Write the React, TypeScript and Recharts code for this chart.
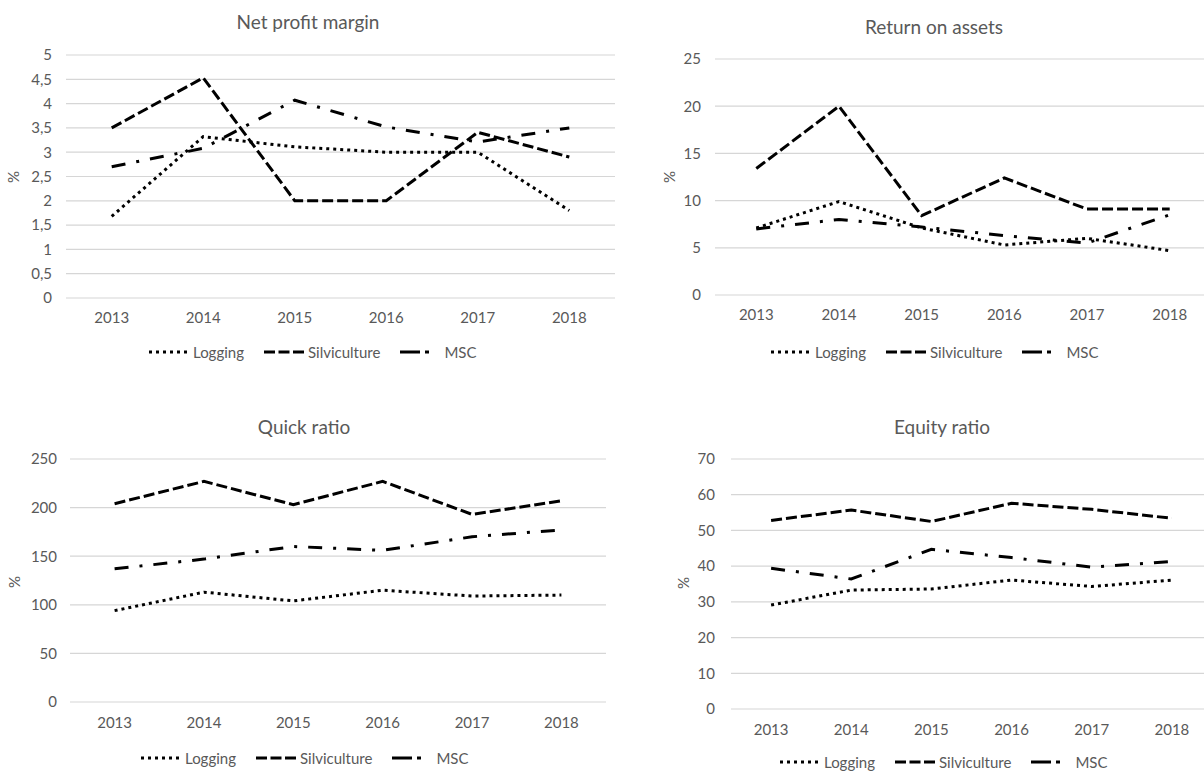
import React from 'react';
import { LineChart, Line, XAxis, YAxis, CartesianGrid } from 'recharts';

const years = ['2013', '2014', '2015', '2016', '2017', '2018'];
const seriesNames = ['Logging', 'Silviculture', 'MSC'];

const npmLogging = [1.68, 3.32, 3.11, 3.0, 3.0, 1.8];
const npmSilviculture = [3.5, 4.53, 2.0, 2.0, 3.41, 2.9];
const npmMSC = [2.7, 3.08, 4.07, 3.52, 3.21, 3.5];
const npmTicks = [0, 0.5, 1, 1.5, 2, 2.5, 3, 3.5, 4, 4.5, 5];

const roaLogging = [7.1, 9.9, 7.1, 5.3, 6.0, 4.7];
const roaSilviculture = [13.4, 20.0, 8.4, 12.4, 9.1, 9.1];
const roaMSC = [7.0, 8.0, 7.2, 6.3, 5.5, 8.5];
const roaTicks = [0, 5, 10, 15, 20, 25];

const qrLogging = [94, 113, 104, 115, 109, 110];
const qrSilviculture = [204, 227, 203, 227, 193, 207];
const qrMSC = [137, 147, 160, 156, 170, 177];
const qrTicks = [0, 50, 100, 150, 200, 250];

const erLogging = [29.1, 33.3, 33.6, 36.1, 34.3, 36.1];
const erSilviculture = [52.8, 55.7, 52.5, 57.6, 55.9, 53.4];
const erMSC = [39.4, 36.4, 44.7, 42.4, 39.7, 41.3];
const erTicks = [0, 10, 20, 30, 40, 50, 60, 70];

const dashes: Record<string, string> = {
  Logging: '3 4',
  Silviculture: '11 4',
  MSC: '14 11 3 11',
};
const legendDashes: Record<string, string> = {
  Logging: '3 4',
  Silviculture: '11 3.5',
  MSC: '20 5 4 40',
};

const TEXT = '#595959';
const FONT = 'Lato, "Open Sans", sans-serif';

function build(a: number[], b: number[], c: number[]) {
  return years.map((y, i) => ({ year: y, Logging: a[i], Silviculture: b[i], MSC: c[i] }));
}

type PanelProps = {
  title: string;
  data: any[];
  ticks: number[];
  x0: number;
  y0: number;
  width: number;
  height: number;
  top: number;
  yw: number;
  pad: number;
  tickGap: number;
  xGap: number;
  titleX: number;
  titleY: number;
  pctX: number;
  pctY: number;
  legX: number;
  legY: number;
};

function Panel(p: PanelProps) {
  const fmt = (v: number) => String(v).replace('.', ',');
  return (
    <>
      <div
        style={{
          position: 'absolute',
          left: p.titleX - 200,
          top: p.titleY - 13,
          width: 400,
          height: 26,
          lineHeight: '26px',
          textAlign: 'center',
          fontSize: 19,
          color: TEXT,
        }}
      >
        {p.title}
      </div>
      <div
        style={{
          position: 'absolute',
          left: p.pctX - 10,
          top: p.pctY - 10,
          width: 20,
          height: 20,
          lineHeight: '20px',
          textAlign: 'center',
          fontSize: 15,
          color: TEXT,
          transform: 'rotate(-90deg)',
        }}
      >
        %
      </div>
      <div style={{ position: 'absolute', left: p.x0, top: p.y0 }}>
        <LineChart
          width={p.width}
          height={p.height}
          data={p.data}
          margin={{ top: p.top, right: 0, bottom: 0, left: 0 }}
        >
          <CartesianGrid vertical={false} stroke="#d6d6d6" strokeWidth={1.2} />
          <XAxis
            dataKey="year"
            axisLine={false}
            tickLine={false}
            tickSize={0}
            tickMargin={p.xGap}
            height={30}
            padding={{ left: p.pad, right: p.pad }}
            tick={{ fill: TEXT, fontSize: 15 }}
            interval={0}
          />
          <YAxis
            width={p.yw}
            domain={[p.ticks[0], p.ticks[p.ticks.length - 1]]}
            ticks={p.ticks}
            axisLine={false}
            tickLine={false}
            tickSize={0}
            tickMargin={p.tickGap}
            tickFormatter={fmt}
            tick={{ fill: TEXT, fontSize: 15 }}
            interval={0}
          />
          {seriesNames.map((s) => (
            <Line
              key={s}
              dataKey={s}
              stroke="#000"
              strokeWidth={3}
              strokeDasharray={dashes[s]}
              dot={false}
              activeDot={false}
              isAnimationActive={false}
              type="linear"
            />
          ))}
        </LineChart>
      </div>
      <div
        style={{
          position: 'absolute',
          left: p.legX,
          top: p.legY - 10,
          height: 20,
          display: 'flex',
          alignItems: 'center',
          whiteSpace: 'nowrap',
          fontSize: 15,
          color: TEXT,
        }}
      >
        {seriesNames.map((s, i) => (
          <span
            key={s}
            style={{ display: 'inline-flex', alignItems: 'center', marginLeft: i === 0 ? 0 : 20 }}
          >
            <svg width={40} height={6} style={{ display: 'block' }}>
              <line x1={0} y1={3} x2={40} y2={3} stroke="#000" strokeWidth={3} strokeDasharray={legendDashes[s]} />
            </svg>
            <span style={{ marginLeft: 4 }}>{s}</span>
          </span>
        ))}
      </div>
    </>
  );
}

export default function App() {
  return (
    <div
      style={{
        position: 'absolute',
        left: 0,
        top: 0,
        width: 1204,
        height: 771,
        overflow: 'hidden',
        background: '#fff',
        fontFamily: FONT,
      }}
    >
      <Panel
        title="Net profit margin"
        data={build(npmLogging, npmSilviculture, npmMSC)}
        ticks={npmTicks}
        x0={0}
        y0={0}
        width={615}
        height={328}
        top={55}
        yw={66}
        pad={45.7}
        tickGap={14}
        xGap={14}
        titleX={308}
        titleY={22}
        pctX={13}
        pctY={177}
        legX={149}
        legY={352}
      />
      <Panel
        title="Return on assets"
        data={build(roaLogging, roaSilviculture, roaMSC)}
        ticks={roaTicks}
        x0={650}
        y0={0}
        width={561}
        height={325}
        top={59}
        yw={65}
        pad={41.3}
        tickGap={14}
        xGap={14}
        titleX={934}
        titleY={27}
        pctX={669}
        pctY={177}
        legX={771}
        legY={352}
      />
      <Panel
        title="Quick ratio"
        data={build(qrLogging, qrSilviculture, qrMSC)}
        ticks={qrTicks}
        x0={0}
        y0={390}
        width={606}
        height={342}
        top={69}
        yw={70}
        pad={44.6}
        tickGap={13}
        xGap={15}
        titleX={304}
        titleY={427}
        pctX={14}
        pctY={582}
        legX={141}
        legY={758}
      />
      <Panel
        title="Equity ratio"
        data={build(erLogging, erSilviculture, erMSC)}
        ticks={erTicks}
        x0={660}
        y0={390}
        width={552}
        height={349}
        top={69}
        yw={71}
        pad={40.1}
        tickGap={16}
        xGap={15}
        titleX={942}
        titleY={427}
        pctX={683}
        pctY={583}
        legX={780}
        legY={762}
      />
    </div>
  );
}
